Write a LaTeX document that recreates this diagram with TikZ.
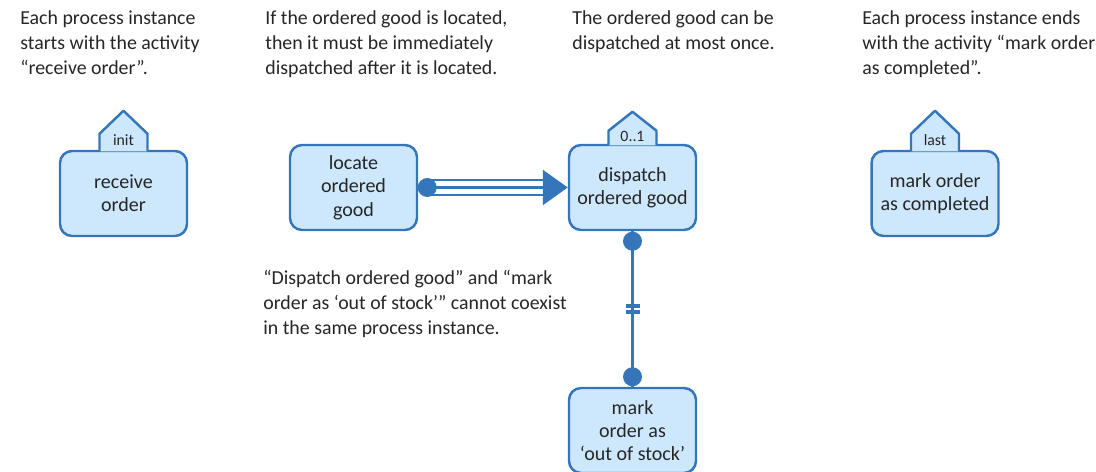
\documentclass[tikz,border=0pt]{standalone}
\usepackage{fontspec}
\setmainfont{Carlito}
\usepackage{tikz}
\usetikzlibrary{arrows.meta,calc,positioning}

\definecolor{actfill}{HTML}{CDE8FC}
\definecolor{actline}{HTML}{3576BA}
\definecolor{textgray}{HTML}{262626}

\begin{document}
\begin{tikzpicture}[x=0.02cm,y=0.02cm,
  activity/.style={draw=actline,fill=actfill,line width=1.4pt,rounded corners=0.24cm,
    minimum width=2.54cm,minimum height=1.7cm,align=center,inner sep=2pt,
    font={\fontsize{11.4}{13.3}\selectfont},text=textgray},
  tab/.style={draw=actline,fill=actfill,line width=1.4pt,line join=round},
  note/.style={anchor=north west,align=left,inner sep=0pt,
    font={\fontsize{11.3}{14.2}\selectfont},text=textgray},
  conn/.style={actline,line width=1.4pt}]
  \useasboundingbox (0,0) rectangle (1096,472);

  % activities
  \node[activity] (receive) at (123.5,278.5) {receive\\order};
  \node[activity] (locate) at (353.5,284.5) {locate\\ordered\\good};
  \node[activity] (dispatch) at (632.5,284.5) {dispatch\\ordered good};
  \node[activity] (outstock) at (632.5,41.5) {mark\\order as\\‘out of stock’};
  \node[activity] (completed) at (935,278.5) {mark order\\as completed};

  % tabs on top (node/label/side/roof)
  \foreach \n/\t/\s/\r in {receive/init/16/23,dispatch/0..1/13/19,completed/last/16/23}{
    \filldraw[tab] ($(\n.north)+(-24,-1.5)$) -- ++(0,\s+1.5) -- ++(24,\r) -- ++(24,-\r) -- ++(0,-\s-1.5);
    \node[font=\fontsize{9}{10}\selectfont,text=textgray,inner sep=0pt] at ($(\n.north)+(0,\s*0.6)$) {\t};
  }

  % response
  \draw[conn] ($(locate.east)+(9,7.5)$) -- ($(dispatch.west)+(-25,7.5)$);
  \draw[conn] ($(locate.east)+(9,-7.5)$) -- ($(dispatch.west)+(-25,-7.5)$);
  \draw[conn,-{Triangle[length=0.5cm,width=0.7cm]}] (locate.east) -- (dispatch.west);
  \fill[actline] ($(locate.east)+(9,0)$) circle (9.5);

  % not coexistence
  \coordinate (mid) at ($(dispatch.south)!0.5!(outstock.north)$);
  \draw[conn] (dispatch.south) -- (outstock.north);
  \fill[actline] ($(dispatch.south)+(0,-10)$) circle (9.5);
  \fill[actline] ($(outstock.north)+(0,10)$) circle (9.5);
  \draw[actline,line width=2.5pt] ($(mid)+(-7,3)$) -- ($(mid)+(7,3)$);
  \draw[actline,line width=2.5pt] ($(mid)+(-7,-3)$) -- ($(mid)+(7,-3)$);

  % notes
  \node[note] (n1) at (20,462) {Each process instance\\starts with the activity\\“receive order”.};
  \node[note] (n2) at (265,462) {If the ordered good is located,\\then it must be immediately\\dispatched after it is located.};
  \node[note] (n3) at (572,462) {The ordered good can be\\dispatched at most once.};
  \node[note] (n4) at (862,462) {Each process instance ends\\with the activity “mark order\\as completed”.};
  \node[note] (n5) at (263,202) {“Dispatch ordered good” and “mark\\order as ‘out of stock’” cannot coexist\\in the same process instance.};
\end{tikzpicture}
\end{document}
